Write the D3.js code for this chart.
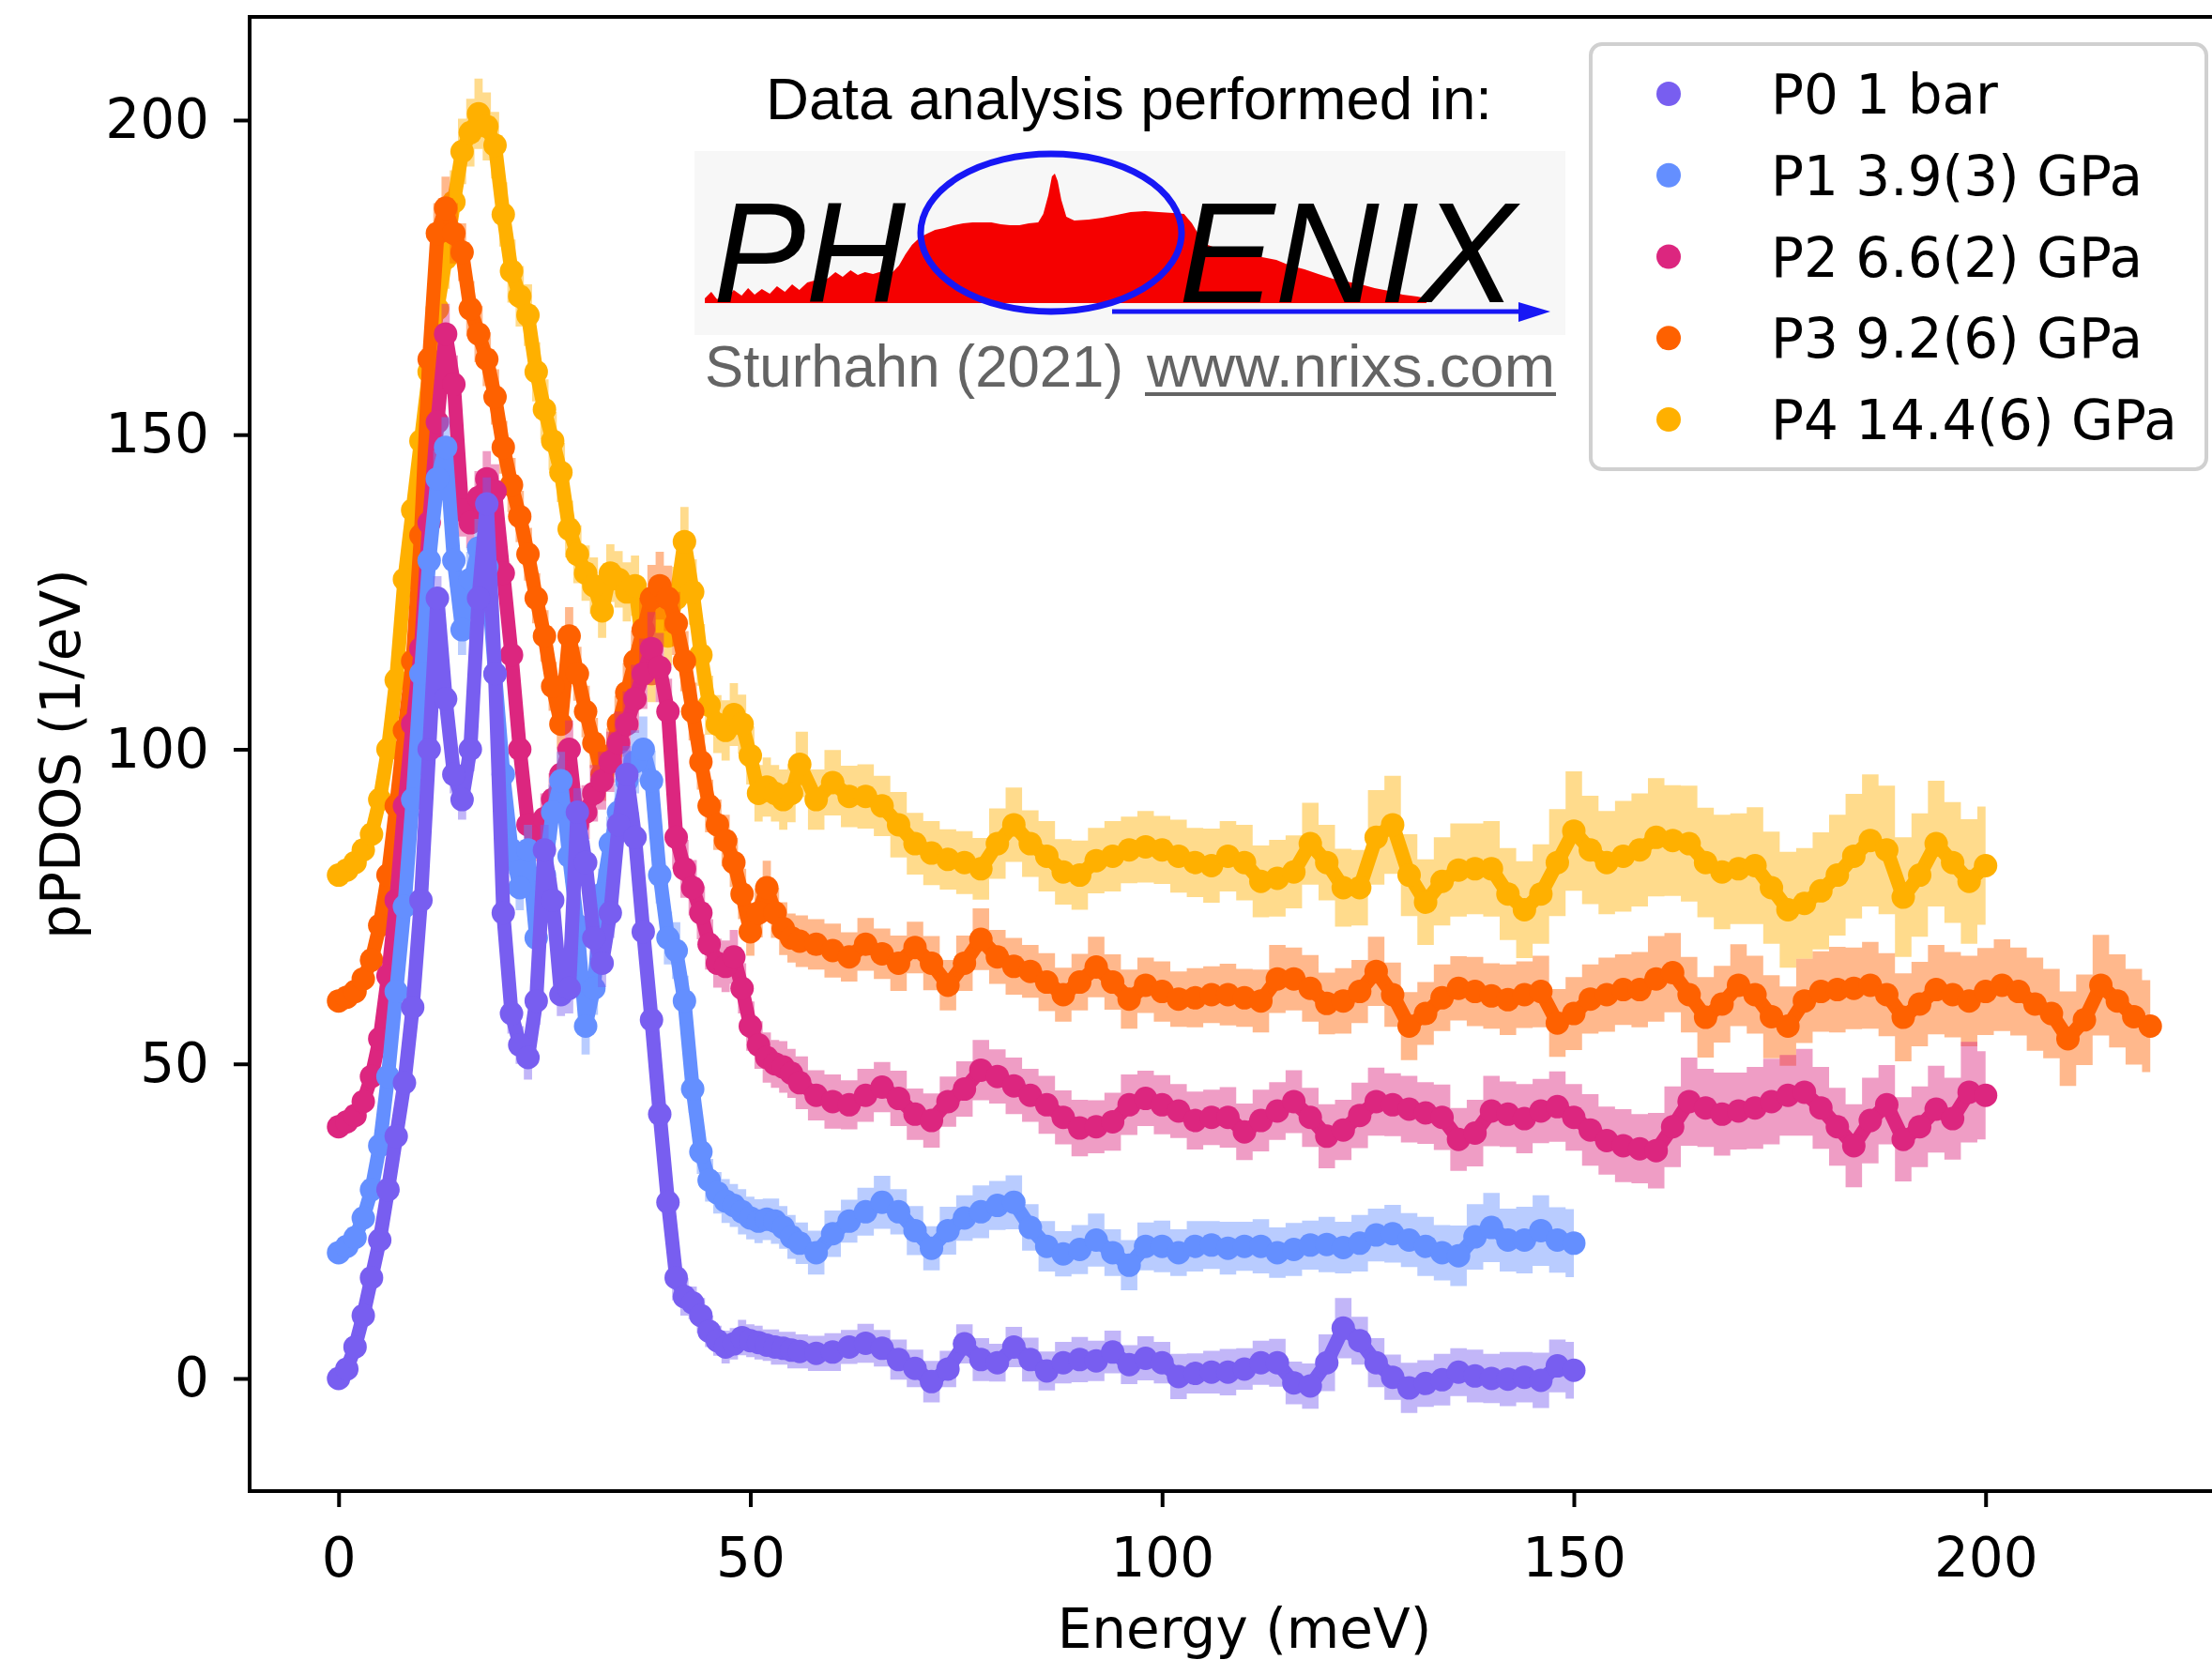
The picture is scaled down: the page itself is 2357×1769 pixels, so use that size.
<!DOCTYPE html>
<html>
<head>
<meta charset="utf-8">
<title>pPDOS vs Energy</title>
<script src="https://cdn.jsdelivr.net/npm/d3@7"></script>
<style>
body { margin: 0; background: #fff; }
text { font-family: "DejaVu Sans", sans-serif; }
</style>
</head>
<body>
<svg id="chart" width="2357" height="1769"></svg>
<script>
//----------------------------DATA------------------------------//
var seriesNames = ["P0 1 bar", "P1 3.9(3) GPa", "P2 6.6(2) GPa", "P3 9.2(6) GPa", "P4 14.4(6) GPa"];
var seriesColors = ["#785ef0", "#648fff", "#dc267f", "#fe6100", "#ffb000"];
var xTicks = [0, 50, 100, 150, 200];
var yTicks = [0, 50, 100, 150, 200];

// [energy (meV), pPDOS (1/eV) incl. offset, error]
var p0 = [[0,0,0.5],[1,1.5,0.6],[2,5,0.8],[3,10,1],[4,16,1.2],[5,22,1.5],[6,30,1.8],[7,38.5,2],[8,47,2.3],[9,59,2.5],[10,76,2.8],
  [11,100,3],[12,124,3.5],[13,108,3.2],[14,96,3],[15,92,3.2],[16,100,3.5],[17,124,4],[18,139,4.2],[19,112,3.8],[20,74,3.5],
  [21,58,3.2],[22,53,3],[23,51,3.5],[24,60,3.8],[25,84,4],[26,76,3.6],[27,61,3.4],[28,62,4],[29,90,3.8],[30,82,3.5],
  [31,70,3.5],[32,66,3.8],[33,74,4],[34,88,4.2],[35,96,4.5],[36,86,4],[37,71,3.6],[38,57,3.2],[39,42,3],[40,28,2.8],
  [41,16,3.6],[42,13,3],[43,12,2.6],[44,10,2.8],[45,7.5,2.5],[46,6,2.4],[47,5,2.6],[48,5.5,2.5],[49,6.5,2.8],[50,6,2.6],
  [51,5.7,2.7],[52,5.3,2.5],[53,5,2.8],[54,4.8,2.6],[55,4.5,2.9],[56,4.3,2.7],
  [58,4,2.8],[60,4.2,3],[62,5,2.7],[64,5.6,3.1],[66,4.8,2.9],[68,3,3.2],[70,1.6,3],[72,-0.5,3.3],[74,1.5,2.9],[76,5.5,3.1],
  [78,3,3.4],[80,2.5,3],[82,5,3.2],[84,3,3.5],[86,1.2,3.1],[88,2.5,3.3],[90,3,3.6],[92,2.8,3.2],[94,4.2,3.4],[96,2.2,3.1],
  [98,3.2,3.5],[100,2.5,3.3],[102,0.3,3.6],[104,0.8,3.2],[106,1,3.4],[108,1,3.7],[110,1.5,3.3],[112,2.5,3.5],[114,2.5,3.8],[116,-0.7,3.4],
  [118,-1.2,3.6],[120,2.5,4.5],[122,8,4.8],[124,6,3.8],[126,2.5,3.9],[128,0.2,3.6],[130,-1.5,4],[132,-0.8,3.7],[134,-0.2,4.1],[136,1,3.8],
  [138,0.4,4.2],[140,0,3.9],[142,-0.1,4.3],[144,0.2,4],[146,-0.3,4.4],[148,2,4.2],[150,1.3,4.5]];

var p1 = [[0,20,0.6],[1,21,0.7],[2,22.4,0.9],[3,25.5,1.1],[4,30,1.4],[5,37,1.7],[6,48,2],[7,61.5,2.4],[8,75,2.8],[9,92,3.2],[10,112,3.6],
  [11,130,4],[12,143,4.5],[13,148,4.8],[14,130,4.2],[15,119,4],[16,127,4.4],[17,132,4.6],[18,129,4.5],[19,112,4.2],[20,96,4],
  [21,84,3.8],[22,78,3.6],[23,84,4],[24,70,3.8],[25,80,4.2],[26,90,4.4],[27,95,4.6],[28,83,4.2],[29,72,4],[30,56,4.5],
  [31,62,4.2],[32,77,4],[33,85,4.3],[34,90,4.5],[35,95,4.8],[36,98,5],[37,100,5.2],[38,95,4.8],[39,80,4.5],[40,70,4.2],
  [41,68,4.5],[42,60,4],[43,46,3.8],[44,36,3.5],[45,31.5,3.4],[46,29.5,3.3],[47,28.2,3.5],[48,27.5,3.4],[49,26.5,3.6],[50,25.5,3.4],
  [51,25,3.5],[52,25.3,3.3],[53,25,3.6],[54,24,3.4],[55,22.5,3.5],[56,21.5,3.3],
  [58,20,3.5],[60,23,3.7],[62,25,3.4],[64,26.5,3.8],[66,28,4.2],[68,26.5,3.6],[70,23.5,3.9],[72,20.7,3.5],[74,23.5,3.8],[76,25.5,3.6],
  [78,26.5,4.2],[80,27.5,3.9],[82,28,4.3],[84,24,3.7],[86,21,4],[88,19.8,3.6],[90,20.5,3.9],[92,22,4.2],[94,20,3.7],[96,18,4],
  [98,21,3.8],[100,21,4.1],[102,20,3.7],[104,21,4],[106,21.2,3.8],[108,20.7,4.2],[110,21,3.9],[112,21,4.3],[114,20,4],[116,20.5,4.2],
  [118,21.2,3.9],[120,21.3,4.4],[122,20.8,4.1],[124,21.5,4.5],[126,22.8,4.2],[128,23,4.6],[130,22,4.3],[132,21,4.7],[134,20,4.4],[136,19.5,4.8],
  [138,22.5,5.2],[140,24,5.5],[142,22,5],[144,22,5.3],[146,23.5,5.6],[148,22,5.2],[150,21.5,5.4]];

var p2 = [[0,40,0.6],[1,40.8,0.7],[2,41.8,0.9],[3,44,1.1],[4,48,1.4],[5,54,1.7],[6,64,2],[7,76,2.4],[8,91,2.8],[9,104,3.2],[10,116,3.6],
  [11,136,4],[12,152,4.4],[13,166,4.8],[14,158,4.6],[15,138,4.2],[16,136,4],[17,140,4.2],[18,143,4.4],[19,141,4.3],[20,128,4.2],
  [21,115,4],[22,100,3.8],[23,88,3.6],[24,86,3.8],[25,89,4],[26,92,4.2],[27,96,4.4],[28,100,4.6],[29,88,4.2],[30,90,4.3],
  [31,93,4.5],[32,95,4.6],[33,98,4.8],[34,101,5],[35,104,5.2],[36,108,5.4],[37,112,5.6],[38,116,5.8],[39,113,5.5],[40,106,5.2],
  [41,86,5],[42,81,4.6],[43,78,4.4],[44,74,4.2],[45,69,4],[46,66,3.9],[47,65.5,4.1],[48,67,4.3],[49,62,4],[50,56,3.9],
  [51,53,3.8],[52,51,4],[53,50,3.8],[54,49.5,4.1],[55,48.5,3.9],[56,47,4.2],
  [58,45,4],[60,44,4.3],[62,43.5,3.9],[64,45,4.2],[66,46.3,4],[68,44.5,4.4],[70,42,4.1],[72,41,4.3],[74,44,4],[76,46,4.4],
  [78,49,4.8],[80,48,4.3],[82,46.5,4.5],[84,45,4.2],[86,43.5,4.6],[88,41.5,4.3],[90,39.8,4.5],[92,40,4.2],[94,40.8,4.6],[96,43.5,4.8],
  [98,44.5,4.4],[100,43.5,4.7],[102,42.5,4.3],[104,41,4.6],[106,41.5,4.4],[108,41.5,4.8],[110,39.2,4.5],[112,41,4.9],[114,42.5,4.6],[116,44,5],
  [118,41.5,4.7],[120,38.5,5.1],[122,39.5,4.8],[124,41.8,5.2],[126,44,5.4],[128,43.5,5],[130,42.8,5.3],[132,42.2,4.9],[134,41.5,5.2],[136,38,5],
  [138,39,5.3],[140,42.5,5.6],[142,42,5.2],[144,41.3,5.5],[146,42.5,5.1],[148,43.2,5.6],[150,41.5,5.3],[152,39.5,5.7],[154,37.8,5.4],[156,37,5.8],
  [158,36.5,5.5],[160,36.2,6],[162,40,6.4],[164,44,7],[166,43,6.2],[168,42,6.6],[170,42.5,6.1],[172,43,6.5],[174,44,6.8],[176,45,6.4],
  [178,45.5,6.9],[180,43,6.5],[182,40,6.2],[184,37,6.6],[186,41,6.8],[188,43.5,6.3],[190,38,6.7],[192,40,6.4],[194,42.8,6.9],[196,41.3,6.5],
  [198,45.5,8],[200,45,7]];

var p3 = [[0,60,0.6],[1,60.6,0.7],[2,61.5,0.9],[3,63.5,1.1],[4,66.5,1.4],[5,72,1.7],[6,80,2],[7,91,2.4],[8,103,2.8],[9,114,3.2],[10,134,3.6],
  [11,162,4.2],[12,182,4.8],[13,186,5],[14,182,4.8],[15,179,4.6],[16,170,4.4],[17,166,4.5],[18,162,4.3],[19,156,4.4],[20,148,4.2],
  [21,142,4.3],[22,137,4.1],[23,131,4.2],[24,124,4],[25,118,4.1],[26,110,3.9],[27,104,4],[28,118,4.6],[29,112,4.3],[30,106,4.1],
  [31,101,4],[32,96,4.2],[33,99,4.3],[34,104,4.5],[35,109,4.7],[36,114,4.9],[37,119,5.1],[38,124,5.3],[39,126,5.4],[40,124,5.2],
  [41,120,5],[42,114,4.8],[43,106,4.6],[44,98,4.4],[45,91,4.2],[46,88,4],[47,85.5,4.1],[48,82,3.9],[49,77,4],[50,71,3.8],
  [51,74,3.9],[52,78,4.3],[53,74,4],[54,71.5,4.2],[55,70,3.9],[56,69.5,4.1],
  [58,69,4],[60,68,4.3],[62,67,3.9],[64,69,4.2],[66,67.5,4],[68,66,4.4],[70,68.5,4.1],[72,66,4.3],[74,62.5,4],[76,66,4.4],
  [78,69.8,4.9],[80,67,4.3],[82,65.5,4.5],[84,64.7,4.2],[86,63,4.6],[88,61,4.3],[90,63,4.5],[92,65.4,4.8],[94,63,4.4],[96,60.3,4.7],
  [98,62.5,4.4],[100,61.5,4.8],[102,60.3,4.4],[104,60.5,4.7],[106,61,4.5],[108,61,4.9],[110,60.5,4.6],[112,60,5],[114,63.5,5.4],[116,63.5,5],
  [118,62,5.3],[120,59.6,4.9],[122,60,5.2],[124,61.5,5],[126,64.7,5.5],[128,61,5.1],[130,56,5.4],[132,58,5],[134,60.5,5.3],[136,62,5.1],
  [138,61.5,5.5],[140,60.8,5.2],[142,60.2,5.6],[144,61,5.3],[146,61.5,5.7],[148,56.5,5.4],[150,58,5.8],[152,60.3,5.5],[154,61,5.9],[156,61.8,5.6],
  [158,61.8,6],[160,63.5,6.8],[162,64.5,6.3],[164,61,6],[166,57.4,6.4],[168,59.5,6.1],[170,62.5,6.5],[172,61,6.2],[174,57.5,6.6],[176,56,6.3],
  [178,60,6.7],[180,61.5,6.4],[182,61.8,6.8],[184,62,6.5],[186,62.5,6.9],[188,61,6.6],[190,57.4,7],[192,59.5,6.7],[194,61.8,7.1],[196,61,6.8],
  [198,60,7.2],[200,61.5,6.9],[202,62.5,7.3],[204,61.5,7],[206,59.5,7.4],[208,58,7.1],[210,54,7.5],[212,57,7.2],[214,62.5,8],[216,60,7.4],
  [218,57.5,7.6],[220,56,7.3]];

var p4 = [[0,80,0.6],[1,80.8,0.7],[2,82,0.9],[3,84,1.1],[4,86.5,1.4],[5,92,1.7],[6,100,2],[7,111,2.4],[8,127,2.8],[9,138,3.2],[10,149,3.6],
  [11,160,4],[12,170,4.4],[13,178,4.8],[14,187,5],[15,195,5.2],[16,198,5.4],[17,201,5.6],[18,199,5.4],[19,196,5.3],[20,185,5.1],
  [21,176,5],[22,172,4.8],[23,169,4.9],[24,160,4.7],[25,154,4.8],[26,149,4.6],[27,144,4.7],[28,135,4.5],[29,131,4.6],[30,128,4.4],
  [31,126,4.5],[32,122,4.3],[33,128,4.6],[34,127,4.5],[35,125,4.7],[36,126,4.8],[37,116,4.6],[38,112,4.5],[39,121,4.9],[40,118,4.7],
  [41,124,5],[42,133,5.5],[43,125,5.2],[44,115,4.9],[45,107,4.7],[46,104,4.6],[47,103,4.8],[48,105.5,5],[49,104,4.7],[50,99,4.6],
  [51,93,4.5],[52,94,4.7],[53,93,4.5],[54,92,4.8],[55,93,4.6],[56,97.6,5.2],
  [58,92,4.8],[60,94.7,5.2],[62,92.5,4.9],[64,92.5,5.1],[66,91,4.8],[68,88,5.2],[70,85,4.9],[72,83.5,5.1],[74,82.5,4.8],[76,82,5],
  [78,81,4.9],[80,85,5.6],[82,88,5.9],[84,85,5.3],[86,83,5.6],[88,80.5,5.2],[90,80,5.5],[92,82.3,5.2],[94,83,5.6],[96,84,5.3],
  [98,84.5,5.7],[100,84,5.4],[102,83,5.8],[104,82,5.5],[106,81.5,5.9],[108,83,5.6],[110,82,6],[112,79,5.7],[114,79.5,6.1],[116,80.5,5.8],
  [118,85,6.5],[120,82,6],[122,78,6.2],[124,78,6],[126,86,7.5],[128,88,7.8],[130,80,6.5],[132,75.7,6.8],[134,79,7],[136,80.8,7.4],
  [138,81,7.2],[140,81,7.6],[142,77,7.3],[144,74.5,7.7],[146,77,7.9],[148,82,8.5],[150,87,9.5],[152,84,8.6],[154,82,8.2],[156,83,8.8],
  [158,84,9],[160,86,9.4],[162,85.5,8.8],[164,85,9.2],[166,82,8.7],[168,80.5,9.1],[170,81,8.8],[172,81.5,9.3],[174,78,8.9],[176,74.5,9.2],
  [178,75.5,8.8],[180,77.5,9.3],[182,80,9.6],[184,83,9.9],[186,85.5,10.5],[188,84,10.2],[190,76.5,9.5],[192,80,9.8],[194,85,10],[196,82,9.6],
  [198,79,9.9],[200,81.5,9.4]];

var seriesData = [p0, p1, p2, p3, p4];

// logo spectrum: [position 0-100 across, height 0-100]
var logoSpectrum = [[0,3.6],[0.9,8.7],[1.7,2.9],[2.5,7.2],[3.3,4.3],[4,10.1],[5.1,5.8],[6,11.6],[6.9,6.5],[7.9,10.9],[9,7.2],
  [10,13],[11.1,8.7],[12.1,14.5],[13.1,10.1],[14.2,15.9],[15.2,17.4],[16.1,21.7],[17,18.8],[18.1,23.9],[19.1,20.3],[20.2,25.4],
  [21.2,21.7],[22.2,23.9],[23.3,22.5],[24.6,24.6],[25.9,23.2],[26.9,29],[27.8,37.7],[28.7,44.9],[29.8,50.7],[30.8,53.6],[31.9,56.5],
  [33.2,58],[34.5,60.1],[35.8,61.6],[37.1,62.3],[38.4,62.3],[39.7,62.3],[41,60.9],[42.3,60.1],[43.6,60.1],[44.9,61.6],[46.2,62.3],
  [46.9,68.8],[47.6,83.3],[48.1,97.8],[48.5,100],[48.9,94.2],[49.4,79.7],[50.1,66.7],[51.2,63.8],[53.2,64.5],[55.1,65.9],[57.1,68.1],
  [59,70.3],[61,71],[62.9,70.3],[64.9,69.6],[66.4,68.8],[67.5,61.6],[68.5,52.2],[69.7,44.9],[71.4,41.3],[73.3,39.1],[75.3,37.7],
  [77.2,35.5],[79.2,33.3],[81.1,29],[83.1,26.1],[85,22.5],[87,18.8],[88.9,16.7],[90.9,14.5],[92.8,11.6],[94.8,9.4],[96.7,6.5],
  [98.7,5.1],[100,3.6]];

//-----------------------------SVG------------------------------//
var svg = d3.select("#chart");
var W = 2357, H = 1769;
var plot = {left: 266, top: 18, right: 2386, bottom: 1589};

var x = d3.scaleLinear().domain([-10.8, 230.8]).range([plot.left, plot.right]);
var y = d3.scaleLinear().domain([-17.9, 216.4]).range([plot.bottom, plot.top]);

svg.append("rect").attr("width", W).attr("height", H).attr("fill", "#fff");

//----------------------------LOGO------------------------------//
var logo = svg.append("g").attr("class", "logo");
logo.append("text")
    .attr("x", 816).attr("y", 127)
    .attr("textLength", 774).attr("lengthAdjust", "spacingAndGlyphs")
    .style("font-family", "'Liberation Sans', Arial, sans-serif")
    .style("font-size", "63px")
    .attr("fill", "#000")
    .text("Data analysis performed in:");

logo.append("rect")
    .attr("x", 740).attr("y", 161).attr("width", 928).attr("height", 196)
    .attr("fill", "#f7f7f7");

var lx = d3.scaleLinear().domain([0, 100]).range([751, 1520]);
var lh = d3.scaleLinear().domain([0, 100]).range([323, 185]);
logo.append("path")
    .datum(logoSpectrum)
    .attr("fill", "#f50000")
    .attr("d", d3.area().x(function (d) { return lx(d[0]); }).y0(323).y1(function (d) { return lh(d[1]); }));

logo.append("text")
    .attr("x", 760).attr("y", 322)
    .attr("textLength", 205).attr("lengthAdjust", "spacingAndGlyphs")
    .style("font-family", "'Liberation Sans', Arial, sans-serif")
    .style("font-style", "italic")
    .style("font-size", "152px")
    .attr("fill", "#000")
    .text("PH");
logo.append("text")
    .attr("x", 1256).attr("y", 322)
    .attr("textLength", 359).attr("lengthAdjust", "spacingAndGlyphs")
    .style("font-family", "'Liberation Sans', Arial, sans-serif")
    .style("font-style", "italic")
    .style("font-size", "152px")
    .attr("fill", "#000")
    .text("ENIX");

logo.append("ellipse")
    .attr("cx", 1120).attr("cy", 248).attr("rx", 139).attr("ry", 84)
    .attr("fill", "none").attr("stroke", "#1717f5").attr("stroke-width", 7);
logo.append("line")
    .attr("x1", 1185).attr("y1", 332).attr("x2", 1625).attr("y2", 332)
    .attr("stroke", "#1717f5").attr("stroke-width", 5);
logo.append("path")
    .attr("d", "M1618,322 L1652,332 L1618,343 Z")
    .attr("fill", "#1717f5");

logo.append("text")
    .attr("x", 751).attr("y", 412)
    .attr("textLength", 446).attr("lengthAdjust", "spacingAndGlyphs")
    .style("font-family", "'Liberation Sans', Arial, sans-serif")
    .style("font-size", "63px")
    .attr("fill", "#646464")
    .text("Sturhahn (2021)");
logo.append("text")
    .attr("x", 1222).attr("y", 412)
    .attr("textLength", 435).attr("lengthAdjust", "spacingAndGlyphs")
    .style("font-family", "'Liberation Sans', Arial, sans-serif")
    .style("font-size", "63px")
    .attr("fill", "#646464")
    .text("www.nrixs.com");
logo.append("line")
    .attr("x1", 1220).attr("y1", 420).attr("x2", 1658).attr("y2", 420)
    .attr("stroke", "#646464").attr("stroke-width", 4);

//----------------------------SERIES----------------------------//
var line = d3.line()
    .x(function (d) { return x(d[0]); })
    .y(function (d) { return y(d[1]); });
var band = d3.area()
    .curve(d3.curveStep)
    .x(function (d) { return x(d[0]); })
    .y0(function (d) { return y(d[1] - d[2]); })
    .y1(function (d) { return y(d[1] + d[2]); });

// P4 drawn first, P0 last (on top)
var order = [4, 3, 2, 1, 0];
order.forEach(function (i) {
    var g = svg.append("g").attr("class", "series s" + i);
    g.append("path")
        .datum(seriesData[i])
        .attr("d", band)
        .attr("fill", seriesColors[i])
        .attr("opacity", 0.45);
    g.append("path")
        .datum(seriesData[i])
        .attr("d", line)
        .attr("fill", "none")
        .attr("stroke", seriesColors[i])
        .attr("stroke-width", 15)
        .attr("stroke-linejoin", "round")
        .attr("stroke-linecap", "round");
    g.selectAll("circle")
        .data(seriesData[i])
        .enter().append("circle")
        .attr("cx", function (d) { return x(d[0]); })
        .attr("cy", function (d) { return y(d[1]); })
        .attr("r", 12.5)
        .attr("fill", seriesColors[i]);
});

//-----------------------------AXES-----------------------------//
var xAxis = svg.append("g")
    .attr("transform", "translate(0," + plot.bottom + ")")
    .call(d3.axisBottom(x).tickValues(xTicks).tickSize(17).tickPadding(33).tickSizeOuter(0));
var yAxis = svg.append("g")
    .attr("transform", "translate(" + plot.left + ",0)")
    .call(d3.axisLeft(y).tickValues(yTicks).tickSize(17).tickPadding(26).tickSizeOuter(0));
[xAxis, yAxis].forEach(function (a) {
    a.select(".domain").remove();
    a.selectAll(".tick line").attr("stroke", "#000").attr("stroke-width", 4);
    a.selectAll(".tick text")
        .attr("fill", "#000")
        .style("font-family", "'DejaVu Sans', sans-serif")
        .style("font-size", "58px");
});

svg.append("rect")
    .attr("x", plot.left).attr("y", plot.top)
    .attr("width", plot.right - plot.left).attr("height", plot.bottom - plot.top)
    .attr("fill", "none").attr("stroke", "#000").attr("stroke-width", 4);

svg.append("text")
    .attr("x", (plot.left + plot.right) / 2).attr("y", 1756)
    .attr("text-anchor", "middle")
    .style("font-size", "58px")
    .text("Energy (meV)");
svg.append("text")
    .attr("transform", "translate(85," + ((plot.top + plot.bottom) / 2) + ") rotate(-90)")
    .attr("text-anchor", "middle")
    .style("font-size", "58px")
    .text("pPDOS (1/eV)");

//----------------------------LEGEND----------------------------//
var legend = svg.append("g").attr("class", "legend");
legend.append("rect")
    .attr("x", 1695).attr("y", 47).attr("width", 656).attr("height", 453)
    .attr("rx", 12)
    .attr("fill", "#fff").attr("fill-opacity", 0.8)
    .attr("stroke", "#d0d0d0").attr("stroke-width", 4);
var item = legend.selectAll(".item")
    .data(seriesNames)
    .enter().append("g")
    .attr("class", "item")
    .attr("transform", function (d, i) { return "translate(0," + (100 + i * 86.75) + ")"; });
item.append("circle")
    .attr("cx", 1778).attr("cy", 0).attr("r", 13)
    .attr("fill", function (d, i) { return seriesColors[i]; });
item.append("text")
    .attr("x", 1887).attr("y", 21)
    .style("font-size", "58px")
    .text(function (d) { return d; });
</script>
</body>
</html>
